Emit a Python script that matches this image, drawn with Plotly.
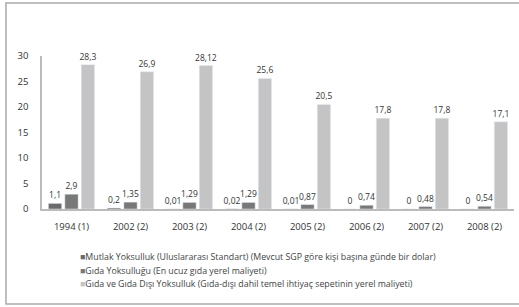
import plotly.graph_objects as go

categories = ["1994 (1)", "2002 (2)", "2003 (2)", "2004 (2)", "2005 (2)", "2006 (2)", "2007 (2)", "2008 (2)"]
mutlak = [1.1, 0.2, 0.01, 0.02, 0.01, 0, 0, 0]
gida = [2.9, 1.35, 1.29, 1.29, 0.87, 0.74, 0.48, 0.54]
gida_disi = [28.3, 26.9, 28.12, 25.6, 20.5, 17.8, 17.8, 17.1]
series_names = [
    "Mutlak Yoksulluk (Uluslararası Standart) (Mevcut SGP göre kişi başına günde bir dolar)",
    "Gıda Yoksulluğu (En ucuz gıda yerel maliyeti)",
    "Gıda ve Gıda Dışı Yoksulluk (Gıda-dışı dahil temel ihtiyaç sepetinin yerel maliyeti)",
]
colors = ["#6a6a6a", "#787878", "#c4c4c4"]
y_ticks = [0, 5, 10, 15, 20, 25, 30]


def fmt(v):
    return str(v).replace(".", ",")


fig = go.Figure()
for name, vals, col in zip(series_names, [mutlak, gida, gida_disi], colors):
    fig.add_trace(go.Bar(
        x=categories, y=vals, name=name, marker_color=col,
        text=[fmt(v) for v in vals], textposition="outside", constraintext="none",
        textfont=dict(size=8.5, color="#333333", family="Open Sans"),
        cliponaxis=False, showlegend=False,
    ))

# legend rows as text
legend_y = [-0.316, -0.403, -0.490]
for name, col, yy in zip(series_names, colors, legend_y):
    fig.add_annotation(
        xref="paper", yref="paper", x=0.0763, y=yy, xanchor="left", yanchor="middle",
        text=f"<span style='color:{col}'>■</span>{name}", showarrow=False,
        font=dict(size=8.8, color="#444444", family="Open Sans"),
    )

# outer frame (right side lies outside the picture)
fig.add_shape(type="rect", xref="paper", yref="paper",
              x0=-0.0763, x1=1.1, y0=-0.621, y1=1.346,
              line=dict(color="#aaaaaa", width=1.5), fillcolor="rgba(0,0,0,0)")

fig.update_layout(
    width=519, height=307,
    margin=dict(l=42, r=5, t=56, b=98),
    barmode="group", bargap=0.164, bargroupgap=0.19,
    plot_bgcolor="white", paper_bgcolor="white",
    font=dict(family="Open Sans", color="#333333"),
)
fig.update_xaxes(showline=True, linecolor="#bbbbbb", linewidth=1.5, showgrid=False,
                 tickfont=dict(size=9.5, color="#333333"), ticklabelstandoff=8)
fig.update_yaxes(range=[0, 30], tickvals=y_ticks, showline=True, linecolor="#bbbbbb", linewidth=1.5,
                 showgrid=False, zeroline=False, tickfont=dict(size=9.5, color="#333333"),
                 ticklabelstandoff=10)

fig.write_html("out.html", config={"displayModeBar": False},
               post_script="document.body.style.margin='0';")
